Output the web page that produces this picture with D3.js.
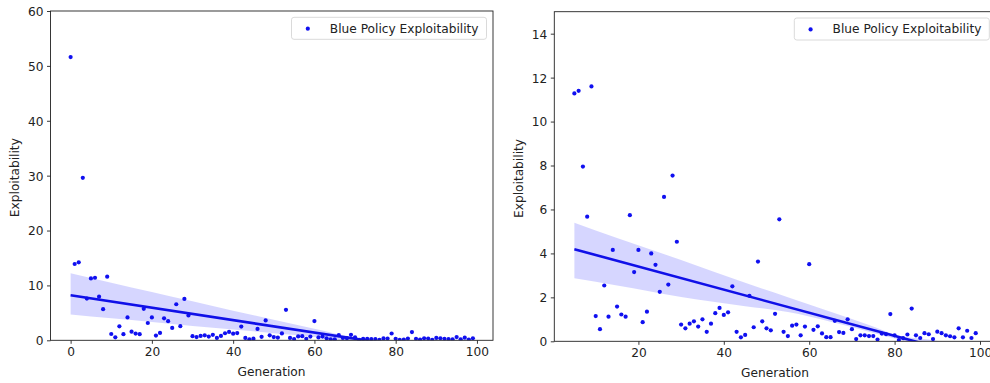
<!DOCTYPE html>
<meta charset="utf-8">
<script src="https://d3js.org/d3.v7.min.js"></script>
<style>
  body { margin: 0; background: #fff; }
  svg { display: block; font-family: "DejaVu Sans", sans-serif; }
</style>
<div id="chart"></div>
<script>
// one exploitability value per generation (0..99)
const generation = [
  0, 1, 2, 3, 4, 5, 6, 7, 8, 9, 10, 11, 12, 13, 14, 15, 16, 17, 18, 19,
  20, 21, 22, 23, 24, 25, 26, 27, 28, 29, 30, 31, 32, 33, 34, 35, 36, 37, 38, 39,
  40, 41, 42, 43, 44, 45, 46, 47, 48, 49, 50, 51, 52, 53, 54, 55, 56, 57, 58, 59,
  60, 61, 62, 63, 64, 65, 66, 67, 68, 69, 70, 71, 72, 73, 74, 75, 76, 77, 78, 79,
  80, 81, 82, 83, 84, 85, 86, 87, 88, 89, 90, 91, 92, 93, 94, 95, 96, 97, 98, 99
];
const exploitability = [
  51.6, 13.9, 14.2, 29.6, 7.6, 11.28, 11.4, 7.95, 5.67, 11.6,
  1.15, 0.55, 2.54, 1.12, 4.16, 1.58, 1.22, 1.12, 5.74, 3.15,
  4.16, 0.87, 1.35, 4.0, 3.48, 2.25, 6.57, 2.58, 7.54, 4.53,
  0.76, 0.59, 0.8, 0.91, 0.67, 1.0, 0.43, 0.8, 1.28, 1.52,
  1.2, 1.32, 2.5, 0.43, 0.18, 0.29, 2.07, 0.64, 3.63, 0.91,
  0.59, 0.5, 1.25, 5.55, 0.43, 0.24, 0.71, 0.76, 0.27, 0.67,
  3.51, 0.52, 0.68, 0.36, 0.19, 0.19, 0.93, 0.42, 0.38, 1.0,
  0.55, 0.1, 0.27, 0.27, 0.24, 0.24, 0.08, 0.35, 0.32, 1.24,
  0.27, 0.06, 0.14, 0.31, 1.49, 0.27, 0.15, 0.37, 0.32, 0.1,
  0.44, 0.37, 0.27, 0.23, 0.18, 0.59, 0.18, 0.48, 0.15, 0.37
];

// regression fit + confidence band
const fitAllX = [0, 99];
const fitAllY = [8.2, -3.0];
const bandAllX = [0, 10, 20, 30, 40, 50, 60, 70, 80, 99];
const bandAllLo = [4.68, 4.0, 3.35, 2.6, 1.95, 1.3, 0.6, -0.3, -1.2, -3.5];
const bandAllHi = [12.2, 10.5, 8.8, 7.1, 5.4, 3.75, 2.1, 0.5, -0.4, -2.5];

const fitLateX = [5, 99];
const fitLateY = [4.19, -0.75];
const bandLateX = [5, 15, 30, 45, 55, 65, 74, 81, 88, 99];
const bandLateLo = [2.87, 2.54, 2.02, 1.6, 1.33, 0.89, 0.44, 0.08, -0.3, -1.2];
const bandLateHi = [5.40, 4.70, 3.70, 2.66, 2.0, 1.34, 0.74, 0.25, 0.08, -0.3];

const xTicksAll = [0, 20, 40, 60, 80, 100];
const yTicksAll = [0, 10, 20, 30, 40, 50, 60];
const xTicksLate = [20, 40, 60, 80, 100];
const yTicksLate = [0, 2, 4, 6, 8, 10, 12, 14];

const legendLabel = "Blue Policy Exploitability";

const width = 990, height = 383;
const fs = 12.2;

const svg = d3.select("#chart").append("svg")
  .attr("width", width)
  .attr("height", height)
  .attr("viewBox", [0, 0, width, height]);

const points = generation.map((g, i) => ({ g: g, v: exploitability[i] }));

const panels = [
  {
    id: "left", left: 50.5, right: 493, top: 11, bottom: 340.3,
    xDomain: [-4.95, 103.95], yDomain: [0, 60],
    xTicks: xTicksAll, yTicks: yTicksAll,
    data: points,
    fit: fitAllX.map((x, i) => [x, fitAllY[i]]),
    band: bandAllX.map((x, i) => [x, bandAllLo[i], bandAllHi[i]])
  },
  {
    id: "right", left: 554.3, right: 995.8, top: 11.7, bottom: 341.3,
    xDomain: [0.3, 103.7], yDomain: [0, 15],
    xTicks: xTicksLate, yTicks: yTicksLate,
    data: points.filter(d => d.g >= 5),
    fit: fitLateX.map((x, i) => [x, fitLateY[i]]),
    band: bandLateX.map((x, i) => [x, bandLateLo[i], bandLateHi[i]])
  }
];

panels.forEach(p => {
  const x = d3.scaleLinear().domain(p.xDomain).range([p.left, p.right]);
  const y = d3.scaleLinear().domain(p.yDomain).range([p.bottom, p.top]);

  svg.append("clipPath")
    .attr("id", "clip-" + p.id)
    .append("rect")
    .attr("x", p.left).attr("y", p.top)
    .attr("width", p.right - p.left).attr("height", p.bottom - p.top);

  const plot = svg.append("g").attr("clip-path", `url(#clip-${p.id})`);

  // confidence band
  plot.append("path")
    .datum(p.band)
    .attr("fill", "blue")
    .attr("fill-opacity", 0.16)
    .attr("d", d3.area().curve(d3.curveMonotoneX)
      .x(d => x(d[0]))
      .y0(d => y(d[1]))
      .y1(d => y(d[2])));

  // scatter
  plot.append("g")
    .selectAll("circle")
    .data(p.data)
    .join("circle")
    .attr("cx", d => x(d.g))
    .attr("cy", d => y(d.v))
    .attr("r", 2.1)
    .attr("fill", "#1010f0");

  // fitted line
  plot.append("path")
    .datum(p.fit)
    .attr("fill", "none")
    .attr("stroke", "#1010e8")
    .attr("stroke-width", 2.6)
    .attr("d", d3.line().x(d => x(d[0])).y(d => y(d[1])));

  // axes
  svg.append("g")
    .attr("transform", `translate(0,${p.bottom})`)
    .call(d3.axisBottom(x).tickValues(p.xTicks).tickSize(3.5).tickPadding(3.5).tickSizeOuter(0))
    .call(g => g.select(".domain").remove())
    .call(g => g.selectAll("text").attr("font-size", fs).attr("font-family", "DejaVu Sans").attr("fill", "#222"))
    .call(g => g.selectAll("line").attr("stroke", "#222").attr("stroke-width", 0.9));

  svg.append("g")
    .attr("transform", `translate(${p.left},0)`)
    .call(d3.axisLeft(y).tickValues(p.yTicks).tickSize(3.5).tickPadding(3.5).tickSizeOuter(0))
    .call(g => g.select(".domain").remove())
    .call(g => g.selectAll("text").attr("font-size", fs).attr("font-family", "DejaVu Sans").attr("fill", "#222").attr("dy", "0.36em"))
    .call(g => g.selectAll("line").attr("stroke", "#222").attr("stroke-width", 0.9));

  // spines
  svg.append("rect")
    .attr("x", p.left).attr("y", p.top)
    .attr("width", p.right - p.left).attr("height", p.bottom - p.top)
    .attr("fill", "none")
    .attr("stroke", "#222")
    .attr("stroke-width", 0.9);

  // axis labels
  svg.append("text")
    .attr("x", (p.left + Math.min(p.right, 2 * 271.5 - 50.5 + (p.left - 50.5))) / 2)
    .attr("y", p.bottom + 36)
    .attr("text-anchor", "middle")
    .attr("font-size", fs)
    .attr("fill", "#222")
    .text("Generation");

  svg.append("text")
    .attr("transform", `translate(${p.left - 31.5},${(p.top + p.bottom) / 2 + 2}) rotate(-90)`)
    .attr("text-anchor", "middle")
    .attr("font-size", fs)
    .attr("fill", "#222")
    .text("Exploitability");

  // legend
  const lg = svg.append("g")
    .attr("transform", `translate(${p.right - 6.5 - 195},${p.top + 6.3})`);
  lg.append("rect")
    .attr("width", 195).attr("height", 22)
    .attr("rx", 2.5)
    .attr("fill", "#fff").attr("fill-opacity", 0.8)
    .attr("stroke", "#d6d6d6").attr("stroke-width", 0.9);
  lg.append("circle")
    .attr("cx", 16.3).attr("cy", 11.4).attr("r", 2.1)
    .attr("fill", "#1010f0");
  lg.append("text")
    .attr("x", 38.3).attr("y", 15.4)
    .attr("font-size", fs)
    .attr("fill", "#222")
    .text(legendLabel);
});
</script>
